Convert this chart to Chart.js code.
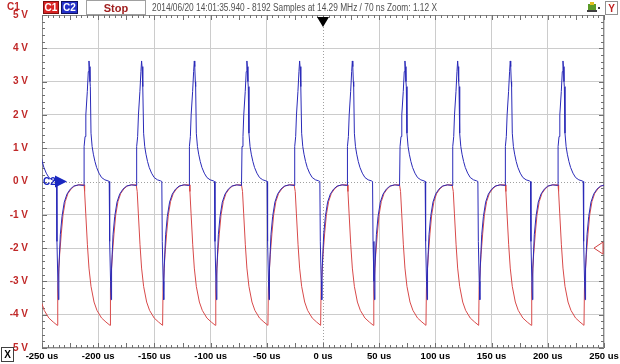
<!DOCTYPE html>
<html>
<head>
<meta charset="utf-8">
<script src="https://cdn.jsdelivr.net/npm/chart.js@4.4.1/dist/chart.umd.min.js"></script>
<style>
  html, body { margin: 0; padding: 0; background: #fff; }
  #wrap { width: 620px; height: 364px; }
</style>
</head>
<body>
<div id="wrap"><canvas id="scope" width="620" height="364"></canvas></div>
<script>
// C2 rising edges (us) - one per cycle
const edgeTimes = [-259.5, -212.6, -165.8, -118.9, -72.1, -25.2, 21.7, 68.5, 115.4, 162.2, 209.1];

// one cycle of C1 (red): time after the edge (us) and volts
const c1Time = [0, 0.5, 1.5, 3.0, 4.4, 6.2, 8.9, 11.5, 15.6, 19.5, 23.1, 23.5, 25.2, 26.7, 28.2, 30.2, 32.6, 35.5, 38.6, 42.6, 46.4];
const c1Volt = [-0.1, -0.3, -0.95, -1.9, -2.6, -3.15, -3.62, -3.87, -4.1, -4.22, -4.32, -3.2, -2.2, -1.55, -1.0, -0.6, -0.36, -0.22, -0.13, -0.1, -0.1];

// one cycle of C2 (blue)
const c2Time = [0, 0.05, 0.9, 1.6, 2.9, 3.8, 4.4, 4.8, 5.3, 5.6, 6.2, 7.2, 8.3, 9.7, 11.2, 13.3, 15.6, 18.5, 21.3, 22.4, 22.8, 23.6, 24.1, 24.5, 25.8, 27.3, 29.3, 31.7, 34.6, 37.7, 42.0, 46.4];
const c2Volt = [-0.12, 1.05, 1.35, 2.0, 2.7, 3.3, 3.62, 3.45, 3.0, 2.85, 1.45, 1.05, 0.82, 0.6, 0.42, 0.25, 0.12, 0.05, 0.02, 0.0, -1.8, -3.0, -3.55, -2.6, -1.6, -1.05, -0.62, -0.38, -0.23, -0.14, -0.1, -0.12];

const xLabels = ['-250 us', '-200 us', '-150 us', '-100 us', '-50 us', '0 us', '50 us', '100 us', '150 us', '200 us', '250 us'];
const yLabels = ['-5 V', '-4 V', '-3 V', '-2 V', '-1 V', '0 V', '1 V', '2 V', '3 V', '4 V', '5 V'];

const infoText = '2014/06/20 14:01:35.940 - 8192 Samples at 14.29 MHz / 70 ns Zoom: 1.12 X';

const narrow = '"Liberation Sans Narrow", "Liberation Sans", Arial, sans-serif';

function buildTrace(times, volts) {
  const pts = [];
  edgeTimes.forEach(e => {
    times.forEach((t, i) => pts.push({ x: +(e + t).toFixed(2), y: volts[i] }));
  });
  return pts;
}

function button(ctx, x, y, w, h, fill, border, text, color) {
  ctx.fillStyle = fill;
  ctx.fillRect(x, y, w, h);
  ctx.strokeStyle = border;
  ctx.strokeRect(x + 0.5, y + 0.5, w - 1, h - 1);
  ctx.fillStyle = color;
  ctx.textAlign = 'center';
  ctx.textBaseline = 'middle';
  ctx.fillText(text, x + w / 2, y + h / 2 + 1);
}

const scopeDecor = {
  id: 'scopeDecor',
  beforeDatasetsDraw(chart) {
    const { ctx, chartArea: a, scales: { x, y } } = chart;
    ctx.save();
    ctx.lineWidth = 1;

    // dotted centre lines
    ctx.strokeStyle = '#a0a0a0';
    ctx.setLineDash([1, 2]);
    const y0 = Math.round(y.getPixelForValue(0)) + 0.5;
    const x0 = Math.round(x.getPixelForValue(0)) + 0.5;
    ctx.beginPath();
    ctx.moveTo(a.left, y0); ctx.lineTo(a.right, y0);
    ctx.moveTo(x0, a.top); ctx.lineTo(x0, a.bottom);
    ctx.stroke();
    ctx.setLineDash([]);

    // frame
    ctx.strokeStyle = '#8a8a8a';
    ctx.strokeRect(a.left + 0.5, a.top + 0.5, a.right - a.left - 1, a.bottom - a.top - 1);

    // small ticks round the edge
    ctx.strokeStyle = '#707070';
    ctx.beginPath();
    for (let t = -250; t <= 250; t += 5) {
      const px = Math.round(x.getPixelForValue(t)) + 0.5;
      const len = t % 25 === 0 ? 5 : 3;
      ctx.moveTo(px, a.top); ctx.lineTo(px, a.top + len);
      ctx.moveTo(px, a.bottom); ctx.lineTo(px, a.bottom - len);
    }
    for (let k = -25; k <= 25; k++) {
      const py = Math.round(y.getPixelForValue(k * 0.2)) + 0.5;
      const len = k % 5 === 0 ? 5 : 3;
      ctx.moveTo(a.left, py); ctx.lineTo(a.left + len, py);
      ctx.moveTo(a.right, py); ctx.lineTo(a.right - len, py);
    }
    ctx.stroke();
    ctx.restore();
  },
  afterDraw(chart) {
    const { ctx, chartArea: a, scales: { x, y } } = chart;
    ctx.save();
    ctx.lineWidth = 1;

    // header bar
    ctx.font = 'bold 10px ' + narrow;
    ctx.fillStyle = '#c02828';
    ctx.textAlign = 'left';
    ctx.textBaseline = 'middle';
    ctx.fillText('C1', 7, 7);
    button(ctx, 43, 1, 16, 13, '#d82424', '#801010', 'C1', '#ffffff');
    button(ctx, 61, 1, 17, 13, '#2430c8', '#101060', 'C2', '#ffffff');
    ctx.font = 'bold 11px ' + narrow;
    button(ctx, 86, 0, 60, 15, '#ffffff', '#a0a0a0', 'Stop', '#a02020');
    ctx.font = '10px ' + narrow;
    ctx.fillStyle = '#505050';
    ctx.textAlign = 'left';
    ctx.fillText(infoText, 152, 8, 285);

    // icon + Y box at the right
    ctx.fillStyle = '#5a9a28';
    ctx.fillRect(588, 4, 8, 6);
    ctx.fillStyle = '#e0c020';
    ctx.fillRect(590, 2, 4, 3);
    ctx.fillStyle = '#404040';
    ctx.fillRect(587, 10, 10, 2);
    ctx.fillRect(598, 7, 2, 2);
    ctx.font = 'bold 10px ' + narrow;
    button(ctx, 605, 1, 13, 14, '#ffffff', '#909090', 'Y', '#c02020');

    // X box bottom left
    button(ctx, 1, 347, 13, 15, '#ffffff', '#404040', 'X', '#000000');

    // trigger marker
    const xt = x.getPixelForValue(0);
    ctx.fillStyle = '#000000';
    ctx.beginPath();
    ctx.moveTo(xt - 6, a.top + 2);
    ctx.lineTo(xt + 6, a.top + 2);
    ctx.lineTo(xt, a.top + 12);
    ctx.closePath();
    ctx.fill();

    // C2 offset marker
    const yc2 = y.getPixelForValue(0);
    ctx.fillStyle = '#1a28c0';
    ctx.font = 'bold 10px ' + narrow;
    ctx.textAlign = 'left';
    ctx.fillText('C2', a.left + 1, yc2 + 1);
    ctx.beginPath();
    ctx.moveTo(a.left + 13, yc2 - 6);
    ctx.lineTo(a.left + 13, yc2 + 6);
    ctx.lineTo(a.left + 25, yc2);
    ctx.closePath();
    ctx.fill();

    // C1 offset marker
    const yc1 = y.getPixelForValue(-2);
    ctx.fillStyle = '#ffffff';
    ctx.strokeStyle = '#d04040';
    ctx.beginPath();
    ctx.moveTo(a.right - 1, yc1 - 6);
    ctx.lineTo(a.right - 1, yc1 + 6);
    ctx.lineTo(a.right - 10, yc1);
    ctx.closePath();
    ctx.fill();
    ctx.stroke();
    ctx.restore();
  }
};

const gridColor = c => (c.tick && c.tick.value === 0) ? 'rgba(0,0,0,0)' : '#cccccc';

new Chart(document.getElementById('scope'), {
  type: 'scatter',
  data: {
    datasets: [
      {
        label: 'C2',
        data: buildTrace(c2Time, c2Volt),
        showLine: true,
        borderColor: '#2a2ab8',
        borderWidth: 1,
        pointRadius: 0,
        tension: 0
      },
      {
        label: 'C1',
        data: buildTrace(c1Time, c1Volt),
        showLine: true,
        borderColor: '#d84a4a',
        borderWidth: 1,
        pointRadius: 0,
        tension: 0
      }
    ]
  },
  options: {
    responsive: false,
    animation: false,
    events: [],
    layout: { padding: { top: 15, right: 16, left: 0, bottom: 0 } },
    plugins: { legend: { display: false }, tooltip: { enabled: false } },
    scales: {
      x: {
        type: 'linear',
        min: -250,
        max: 250,
        afterFit: s => { s.height = 16; s.paddingLeft = 0; s.paddingRight = 0; },
        border: { display: false },
        grid: { color: gridColor, drawTicks: false },
        ticks: {
          stepSize: 50,
          padding: 3,
          maxRotation: 0,
          autoSkip: false,
          color: '#000000',
          font: { family: narrow, size: 9.5, weight: 'bold' },
          callback: (v, i) => xLabels[i]
        }
      },
      y: {
        min: -5,
        max: 5,
        afterFit: s => { s.width = 42; s.paddingTop = 0; s.paddingBottom = 0; },
        border: { display: false },
        grid: { color: gridColor, drawTicks: false },
        ticks: {
          stepSize: 1,
          padding: 14,
          autoSkip: false,
          color: '#c02828',
          font: { family: narrow, size: 10, weight: 'bold' },
          callback: (v, i) => yLabels[i]
        }
      }
    }
  },
  plugins: [scopeDecor]
});
</script>
</body>
</html>
